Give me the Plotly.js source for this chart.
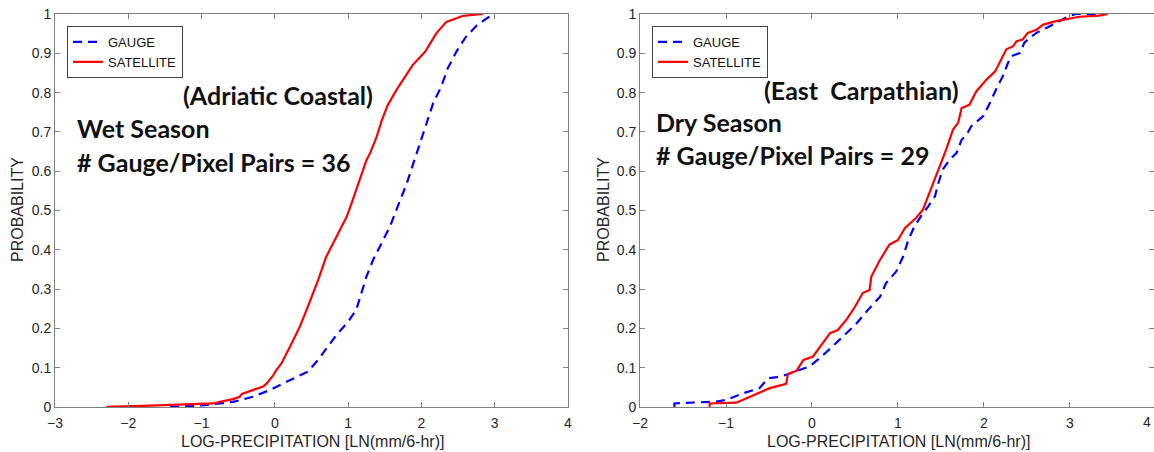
<!DOCTYPE html>
<html>
<head>
<meta charset="utf-8">
<script src="https://cdn.plot.ly/plotly-3.0.1.min.js"></script>
<style>html,body{margin:0;padding:0;background:#fff;}#chart{width:1154px;height:452px;}</style>
</head>
<body>
<div id="chart"></div>
<script>
const wetSatX = [-2.3,-2.2,-1.8,-1.43,-1.1,-0.84,-0.75,-0.57,-0.48,-0.45,-0.30,-0.16,-0.11,-0.02,0.02,0.09,0.23,0.34,0.45,0.59,0.70,0.84,0.98,1.05,1.16,1.25,1.30,1.39,1.46,1.54,1.66,1.80,1.88,2.05,2.20,2.34,2.56,2.84];
const wetSatY = [0,0.001,0.003,0.005,0.007,0.009,0.013,0.02,0.026,0.033,0.043,0.052,0.060,0.081,0.094,0.111,0.162,0.204,0.255,0.323,0.382,0.433,0.484,0.52,0.578,0.628,0.646,0.688,0.73,0.768,0.807,0.845,0.87,0.904,0.95,0.98,0.995,1];
const wetGauX = [-1.43,-1.0,-0.71,-0.57,-0.30,-0.07,0.16,0.30,0.45,0.59,0.70,0.84,1.0,1.11,1.18,1.25,1.34,1.46,1.57,1.68,1.80,1.89,1.98,2.07,2.16,2.27,2.36,2.48,2.60,2.75,2.90,3.0];
const wetGauY = [0,0.004,0.01,0.013,0.026,0.043,0.064,0.077,0.09,0.12,0.149,0.183,0.217,0.247,0.289,0.332,0.374,0.417,0.459,0.512,0.569,0.62,0.671,0.722,0.773,0.815,0.862,0.905,0.94,0.97,0.99,1];

const drySatX = [-1.19,-1.19,-0.88,-0.72,-0.49,-0.30,-0.28,-0.18,-0.10,0.01,0.11,0.21,0.30,0.40,0.50,0.59,0.67,0.69,0.79,0.90,1.0,1.08,1.21,1.29,1.35,1.41,1.48,1.56,1.64,1.70,1.74,1.83,1.91,2.03,2.13,2.18,2.26,2.34,2.38,2.45,2.51,2.61,2.69,2.84,3.11,3.34,3.44];
const drySatY = [0,0.009,0.011,0.026,0.048,0.059,0.084,0.092,0.12,0.128,0.158,0.188,0.196,0.222,0.255,0.29,0.298,0.332,0.374,0.413,0.425,0.455,0.481,0.502,0.536,0.57,0.612,0.655,0.706,0.723,0.761,0.769,0.803,0.833,0.854,0.876,0.91,0.918,0.931,0.935,0.952,0.96,0.973,0.982,0.993,0.996,1];
const dryGauX = [-1.6,-1.6,-1.11,-1.0,-0.80,-0.61,-0.51,-0.41,-0.30,-0.03,0.11,0.24,0.36,0.52,0.65,0.79,0.86,0.98,1.06,1.12,1.19,1.29,1.35,1.43,1.47,1.52,1.60,1.68,1.74,1.80,1.85,1.99,2.07,2.14,2.22,2.28,2.32,2.42,2.47,2.53,2.61,2.73,2.84,3.0,3.07,3.3];
const dryGauY = [0,0.009,0.014,0.018,0.035,0.048,0.073,0.076,0.082,0.103,0.128,0.154,0.179,0.213,0.247,0.280,0.315,0.345,0.383,0.425,0.459,0.493,0.51,0.536,0.57,0.604,0.629,0.646,0.68,0.693,0.714,0.74,0.774,0.808,0.842,0.876,0.893,0.901,0.927,0.939,0.952,0.965,0.977,0.996,1,1];

const seriesNames = ['GAUGE', 'SATELLITE'];
const xTitle = 'LOG-PRECIPITATION [LN(mm/6-hr)]';
const yTitle = 'PROBABILITY';
const regionLabels = ['(Adriatic Coastal)', '(East\u00a0 Carpathian)'];
const seasonLabels = ['Wet Season', 'Dry Season'];
const pairLabels = ['# Gauge/Pixel Pairs = 36', '# Gauge/Pixel Pairs = 29'];

// ---- layout helpers ----
const W = 1154, H = 452;
const px = v => v / W;
const py = v => (H - v) / H;

const tickFont = {family: 'Liberation Sans, Arial, sans-serif', size: 14, color: '#262626'};
const titleFont = {family: 'Liberation Sans, Arial, sans-serif', size: 16, color: '#262626'};
const boldFont = {family: 'Lato, sans-serif', size: 25, color: '#111111'};

const blue = '#0000ff', red = '#ff0000';

const traces = [
  {x: wetGauX, y: wetGauY, name: seriesNames[0], mode: 'lines', line: {color: blue, width: 2.2, dash: '9px,6px'}, xaxis: 'x', yaxis: 'y', legend: 'legend'},
  {x: wetSatX, y: wetSatY, name: seriesNames[1], mode: 'lines', line: {color: red, width: 2.2}, xaxis: 'x', yaxis: 'y', legend: 'legend'},
  {x: dryGauX, y: dryGauY, name: seriesNames[0], mode: 'lines', line: {color: blue, width: 2.2, dash: '9px,6px'}, xaxis: 'x2', yaxis: 'y2', legend: 'legend2'},
  {x: drySatX, y: drySatY, name: seriesNames[1], mode: 'lines', line: {color: red, width: 2.2}, xaxis: 'x2', yaxis: 'y2', legend: 'legend2'}
];

const axCommon = {
  showline: true, linecolor: '#808080', linewidth: 1, mirror: 'ticks',
  ticks: 'inside', ticklen: 5, tickcolor: '#808080', tickwidth: 1,
  showgrid: false, zeroline: false, tickfont: tickFont, fixedrange: true
};

const yDom = [45 / H, 438 / H];

const legendCommon = {
  bgcolor: '#ffffff', bordercolor: '#404040', borderwidth: 1,
  font: {family: 'Liberation Sans, Arial, sans-serif', size: 13, color: '#111'},
  xanchor: 'left', yanchor: 'top', tracegroupgap: 0, itemwidth: 30
};

const layout = {
  width: W, height: H,
  margin: {l: 0, r: 0, t: 0, b: 0},
  paper_bgcolor: '#ffffff', plot_bgcolor: '#ffffff',
  showlegend: true,
  xaxis: Object.assign({}, axCommon, {domain: [55 / W, 568 / W], range: [-3, 4], dtick: 1, tick0: 0, anchor: 'y', ticklabelstandoff: 3}),
  yaxis: Object.assign({}, axCommon, {domain: yDom, range: [0, 1], dtick: 0.1, tick0: 0, anchor: 'x'}),
  xaxis2: Object.assign({}, axCommon, {domain: [640 / W, 1], range: [-2, 3.977], dtick: 1, tick0: 0, anchor: 'y2', ticklabelstandoff: 3}),
  yaxis2: Object.assign({}, axCommon, {domain: yDom, range: [0, 1], dtick: 0.1, tick0: 0, anchor: 'x2'}),
  legend: Object.assign({}, legendCommon, {x: px(67), y: py(26)}),
  legend2: Object.assign({}, legendCommon, {x: px(652), y: py(26)}),
  annotations: [
    {text: '<b>' + regionLabels[0] + '</b>', xref: 'paper', yref: 'paper', x: px(278), y: py(95), xanchor: 'center', yanchor: 'middle', showarrow: false, font: boldFont},
    {text: '<b>' + seasonLabels[0] + '</b>', xref: 'paper', yref: 'paper', x: px(75), y: py(128), xanchor: 'left', yanchor: 'middle', showarrow: false, font: boldFont},
    {text: '<b>' + pairLabels[0] + '</b>', xref: 'paper', yref: 'paper', x: px(75), y: py(162), xanchor: 'left', yanchor: 'middle', showarrow: false, font: boldFont},
    {text: '<b>' + regionLabels[1] + '</b>', xref: 'paper', yref: 'paper', x: px(861), y: py(90), xanchor: 'center', yanchor: 'middle', showarrow: false, font: boldFont},
    {text: '<b>' + seasonLabels[1] + '</b>', xref: 'paper', yref: 'paper', x: px(654), y: py(122), xanchor: 'left', yanchor: 'middle', showarrow: false, font: boldFont},
    {text: '<b>' + pairLabels[1] + '</b>', xref: 'paper', yref: 'paper', x: px(654), y: py(155), xanchor: 'left', yanchor: 'middle', showarrow: false, font: boldFont},
    // axis titles
    {text: xTitle, xref: 'paper', yref: 'paper', x: px(312), y: py(441), xanchor: 'center', yanchor: 'middle', showarrow: false, font: titleFont},
    {text: xTitle, xref: 'paper', yref: 'paper', x: px(898), y: py(441), xanchor: 'center', yanchor: 'middle', showarrow: false, font: titleFont},
    {text: yTitle, xref: 'paper', yref: 'paper', x: px(18), y: py(210), xanchor: 'center', yanchor: 'middle', textangle: -90, showarrow: false, font: titleFont},
    {text: yTitle, xref: 'paper', yref: 'paper', x: px(604), y: py(210), xanchor: 'center', yanchor: 'middle', textangle: -90, showarrow: false, font: titleFont},
    // last tick label of the right panel, kept inside the figure edge
    {text: '4', xref: 'paper', yref: 'paper', x: 1, y: py(422), xanchor: 'right', yanchor: 'middle', xshift: -1, showarrow: false, font: tickFont}
  ]
};

Plotly.newPlot('chart', traces, layout, {displayModeBar: false, staticPlot: true});
</script>
</body>
</html>
